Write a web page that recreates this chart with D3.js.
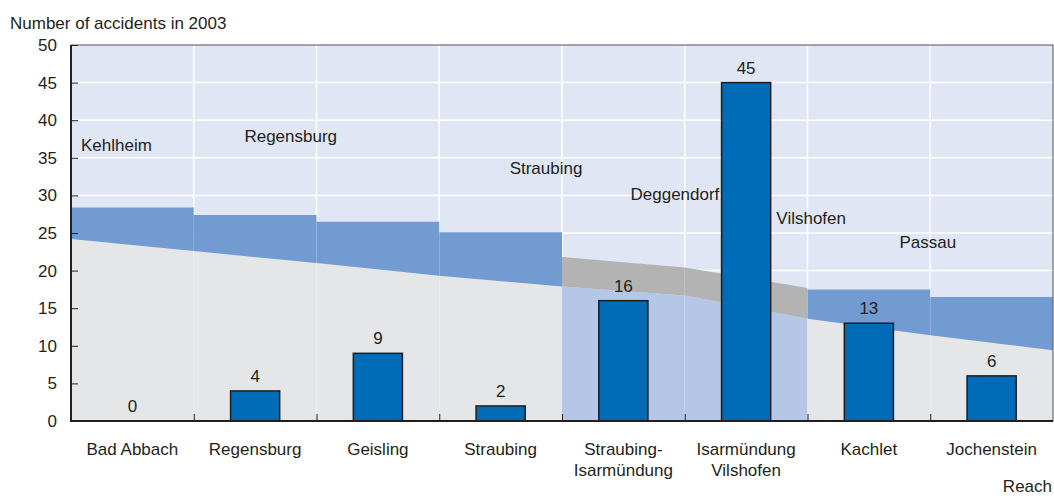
<!DOCTYPE html>
<html>
<head>
<meta charset="utf-8">
<script src="https://cdn.jsdelivr.net/npm/d3@7"></script>
<style>
  body { margin: 0; background: #fff; }
  text { font-family: 'Liberation Sans', Arial, sans-serif; fill: #231f20; font-size: 17px; }
</style>
</head>
<body>
<div id="container"></div>
<script>
// reaches of the Danube and accidents in 2003
const reaches = [['Bad Abbach'], ['Regensburg'], ['Geisling'], ['Straubing'],
  ['Straubing-', 'Isarmündung'], ['Isarmündung', 'Vilshofen'], ['Kachlet'], ['Jochenstein']];
const accidents = [0, 4, 9, 2, 16, 45, 13, 6];

// lower edge of the band, read at each reach boundary (9 values)
const lowerEdge = [24.2, 22.6, 21.0, 19.3, 17.9, 16.7, 13.6, 11.4, 9.4];
// upper edge of the band, at start and end of each reach
const upperStart = [28.4, 27.4, 26.5, 25.1, 21.8, 20.4, 17.5, 16.5];
const upperEnd   = [28.4, 27.4, 26.5, 25.1, 20.4, 17.7, 17.5, 16.5];
// free flowing stretch drawn in grey / light blue
const freeFlowing = [false, false, false, false, true, true, false, false];

// town names written in the plot: [name, reach position, value]
const towns = [
  ['Kehlheim', 0.37, 36.7],
  ['Regensburg', 1.79, 37.9],
  ['Straubing', 3.87, 33.6],
  ['Deggendorf', 4.92, 30.2],
  ['Vilshofen', 6.03, 27.0],
  ['Passau', 6.98, 23.8]
];

const yTicks = [0, 5, 10, 15, 20, 25, 30, 35, 40, 45, 50];

const width = 1054, height = 498;
const margin = {top: 45, right: 1, bottom: 77, left: 71};

const svg = d3.select('#container').append('svg')
  .attr('width', width)
  .attr('height', height);

const x = d3.scaleLinear()
  .domain([0, reaches.length])
  .range([margin.left, width - margin.right]);

const y = d3.scaleLinear()
  .domain([0, 50])
  .range([height - margin.bottom, margin.top]);

const band = x(1) - x(0);

// background
svg.append('rect')
  .attr('x', x(0)).attr('y', y(50))
  .attr('width', x(reaches.length) - x(0))
  .attr('height', y(0) - y(50))
  .attr('fill', '#e0e6f4');

// grid
svg.append('g')
  .selectAll('line')
  .data(yTicks.slice(1, -1))
  .join('line')
  .attr('x1', x(0)).attr('x2', x(reaches.length))
  .attr('y1', d => y(d)).attr('y2', d => y(d))
  .attr('stroke', '#fff').attr('stroke-width', 1.5);

svg.append('g')
  .selectAll('line')
  .data(d3.range(1, reaches.length))
  .join('line')
  .attr('x1', d => x(d)).attr('x2', d => x(d))
  .attr('y1', y(0)).attr('y2', y(50))
  .attr('stroke', '#fff').attr('stroke-width', 1.5);

const area = d3.area()
  .x(d => x(d.i))
  .y0(d => y(d.lo))
  .y1(d => y(d.hi));

// floor and band for each reach
reaches.forEach((r, i) => {
  svg.append('path')
    .datum([{i: i, lo: 0, hi: lowerEdge[i]}, {i: i + 1, lo: 0, hi: lowerEdge[i + 1]}])
    .attr('d', area)
    .attr('fill', freeFlowing[i] ? '#b4c7e7' : '#e5e6e8');

  svg.append('path')
    .datum([{i: i, lo: lowerEdge[i], hi: upperStart[i]}, {i: i + 1, lo: lowerEdge[i + 1], hi: upperEnd[i]}])
    .attr('d', area)
    .attr('fill', freeFlowing[i] ? '#b3b3b3' : '#729bd2');
});

// bars
svg.append('g')
  .selectAll('rect')
  .data(accidents)
  .join('rect')
  .attr('x', (d, i) => x(i + 0.5) - band * 0.2)
  .attr('width', band * 0.4)
  .attr('y', d => y(d))
  .attr('height', d => y(0) - y(d))
  .attr('fill', '#006bb6')
  .attr('stroke', '#1d1d1b')
  .attr('stroke-width', d => d > 0 ? 1.5 : 0);

svg.append('g')
  .selectAll('text')
  .data(accidents)
  .join('text')
  .attr('x', (d, i) => x(i + 0.5))
  .attr('y', d => y(d) - 9)
  .attr('text-anchor', 'middle')
  .text(d => d);

// town names
svg.append('g')
  .selectAll('text')
  .data(towns)
  .join('text')
  .attr('x', d => x(d[1]))
  .attr('y', d => y(d[2]) + 6)
  .attr('text-anchor', 'middle')
  .text(d => d[0]);

// frame
svg.append('rect')
  .attr('x', x(0)).attr('y', y(50))
  .attr('width', x(reaches.length) - x(0))
  .attr('height', y(0) - y(50))
  .attr('fill', 'none')
  .attr('stroke', '#555').attr('stroke-width', 1);

// y axis
const yAxis = svg.append('g')
  .attr('transform', `translate(${x(0)},0)`)
  .call(d3.axisRight(y).tickValues(yTicks).tickSize(7).tickFormat(''));
yAxis.select('.domain').remove();
yAxis.selectAll('line').attr('stroke', '#231f20');

svg.append('g')
  .selectAll('text')
  .data(yTicks)
  .join('text')
  .attr('x', x(0) - 14)
  .attr('y', d => y(d) + 6)
  .attr('text-anchor', 'end')
  .text(d => d);

svg.append('line')
  .attr('x1', x(0)).attr('x2', x(0))
  .attr('y1', y(50)).attr('y2', y(0) + 1)
  .attr('stroke', '#231f20').attr('stroke-width', 2);

// x axis
const xAxis = svg.append('g')
  .attr('transform', `translate(0,${y(0)})`)
  .call(d3.axisTop(x).tickValues(d3.range(1, reaches.length)).tickSize(7).tickFormat(''));
xAxis.select('.domain').remove();
xAxis.selectAll('line').attr('stroke', '#231f20');

svg.append('line')
  .attr('x1', x(0) - 1).attr('x2', x(reaches.length))
  .attr('y1', y(0)).attr('y2', y(0))
  .attr('stroke', '#231f20').attr('stroke-width', 2);

svg.append('g')
  .selectAll('text')
  .data(reaches)
  .join('text')
  .attr('x', (d, i) => x(i + 0.5))
  .attr('y', y(0) + 34)
  .attr('text-anchor', 'middle')
  .selectAll('tspan')
  .data(d => d)
  .join('tspan')
  .attr('x', function () { return this.parentNode.getAttribute('x'); })
  .attr('dy', (d, j) => j === 0 ? 0 : 21)
  .text(d => d);

// axis titles
svg.append('text')
  .attr('x', 10).attr('y', 29)
  .text('Number of accidents in 2003');

svg.append('text')
  .attr('x', width - 2).attr('y', 492)
  .attr('text-anchor', 'end')
  .text('Reach');
</script>
</body>
</html>
